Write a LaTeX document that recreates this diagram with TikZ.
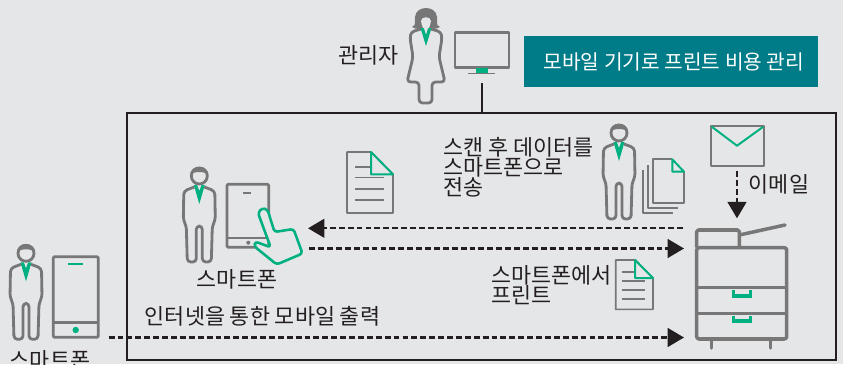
\documentclass[tikz,border=0pt]{standalone}
\usepackage{fontspec}
\setmainfont{Noto Sans CJK KR}
\usepackage{xcolor}
\usetikzlibrary{arrows.meta}
\definecolor{paper}{HTML}{E5E6E8}
\definecolor{icon}{HTML}{777777}
\definecolor{mint}{HTML}{00B081}
\definecolor{teal}{HTML}{007C89}
\definecolor{ink}{HTML}{231F20}
\tikzset{
    label/.style = {inner sep=0pt, text=ink, font=\fontsize{18.6}{17}\selectfont, align=left},
    outline/.style = {draw=icon, line width=2.4pt, line join=round},
    thin/.style = {draw=icon, line width=1.4pt, line join=round},
    accent/.style = {draw=mint, line width=1.7pt, line join=round},
    flow/.style = {draw=ink, line width=2pt, dash pattern=on 5pt off 2.6pt, -{Triangle[length=14pt,width=16pt]}},
    man/.pic = {
        \draw[outline] (0,0) circle (8);
        \fill[icon] (-9,-1) .. controls (-9,-12) and (9,-12) .. (9,-1) .. controls (6,-5) and (-6,-5) .. (-9,-1) -- cycle;
        \draw[outline, rounded corners=3pt] (-5,11) -- (-15.5,15) -- (-16,44) -- (-13,50) -- (-12,86) -- (-3,86) -- (-3,50) -- (3,50) -- (3,86) -- (12,86) -- (13,50) -- (16,44) -- (15.5,15) -- (5,11);
        \fill[mint] (-5.5,9) -- (-2.2,9) -- (0,15) -- (2.2,9) -- (5.5,9) -- (0,28) -- cycle;
    },
    woman/.pic = {
        \fill[icon] (-14,5) .. controls (-9,3) and (-12,-1) .. (-11,-5) .. controls (-10,-17) and (10,-17) .. (11,-5) .. controls (12,-1) and (9,3) .. (14,5) .. controls (9,8) and (5,7) .. (0,6) .. controls (-5,7) and (-9,8) .. (-14,5) -- cycle;
        \fill[paper] (-5,-1) .. controls (-5,-6) and (5,-6) .. (5,-1) .. controls (5,2) and (3,5) .. (2.5,7) -- (-2.5,7) .. controls (-3,5) and (-5,2) .. (-5,-1) -- cycle;
        \draw[outline, rounded corners=3pt] (-5,7) -- (-15,10) -- (-16,16) -- (-13,35) -- (-19,60) -- (-7,60) -- (-7,81) -- (6,81) -- (6,60) -- (19,60) -- (13,35) -- (16,16) -- (15,10) -- (5,7);
        \fill[mint] (-5.5,6) -- (-2.2,6) -- (0,13) -- (2.2,6) -- (5.5,6) -- (0,24) -- cycle;
    },
    sheet/.pic = {
        \draw[thin] (0,0) -- (24,0) -- (46,22.3) -- (46,61) -- (0,61) -- cycle;
        \foreach \y/\e in {15/24, 25.6/36.6, 37.3/36.6, 48/36.6}
            \draw[thin] (8,\y) -- (\e,\y);
        \draw[accent] (24,0) -- (24,22.3) -- (46,22.3) -- cycle;
    },
}
\begin{document}
\begin{tikzpicture}[x=0.03cm, y=-0.03cm]
    \clip (0,0) rectangle (843,364);
    \fill[paper] (0,0) rectangle (843,364);

    \node (frame) at (481.5,236.5) [draw=ink, line width=1.7pt, minimum width=21.27cm, minimum height=7.41cm, outer sep=0pt] {};
    \node (banner) at (671,61.5) [fill=teal, text=white, minimum width=8.82cm, minimum height=1.53cm, font=\fontsize{17.3}{17}\selectfont] {\hspace*{5pt}모바일 기기로 프린트 비용 관리};

    \pic at (426,22) {woman};
    \node (admin) at (368.5,55) [label] {관리자};
    \draw[outline] (455,32.7) rectangle (509,67.3);
    \fill[mint] (476,68) rectangle (488,73);
    \draw[thin] (468.3,73.5) -- (495,73.5);
    \coordinate (stand) at (481.7,83);
    \draw[draw=ink, line width=1.7pt] (stand) -- (stand |- frame.north);

    \pic at (199.3,176) {man};
    \draw[outline, rounded corners=1pt] (227,184.3) rectangle (268.7,247.3);
    \draw[outline] (227,238) -- (268.7,238);
    \draw[icon, line width=2pt] (243.3,193.3) -- (251.3,193.3);
    \fill[icon] (248.3,242.7) circle (2);
    \draw[accent, line width=2.2pt, fill=paper, rounded corners=2.5pt] (258,213) -- (270.7,247.3) -- (255,241.5) -- (254.5,246.5) -- (276.7,264.5) -- (302.5,253.5) -- (293.5,229) -- (274.5,232) -- (267.5,209.5) -- (262,208) -- cycle;
    \node (tablet) at (237,279) [label] {스마트폰};

    \pic at (347,152) {sheet};

    \node (scan) at (443,167) [label, anchor=west] {스캔 후 데이터를\\스마트폰으로\\전송};
    \pic at (619,133) {man};
    \draw[thin] (648.3,165) -- (648.3,208.3) -- (678.3,208.3);
    \draw[thin] (643.3,170) -- (643.3,213.3) -- (672.7,213.3);
    \draw[thin] (672.3,159.3) -- (653.3,159.3) -- (653.3,203.3) -- (684,203.3) -- (684,171.7);
    \draw[accent] (672.3,159.3) -- (672.3,171.7) -- (684,171.7) -- cycle;

    \draw[thin, line width=1.7pt] (710.7,125.7) rectangle (764,165.7);
    \draw[accent] (711.7,126.7) -- (737,145.7) -- (763.3,126.7);
    \node (mail) at (779,184) [label] {이메일};
    \coordinate (mailout) at (737,171);
    \coordinate (mailin) at (737,218.3);
    \draw[flow] (mailout) -- (mailin);

    \draw[outline, line width=3pt, rounded corners=1.5pt] (696.7,247.7) -- (696.7,230) -- (739.3,230) -- (739.3,247.7);
    \draw[outline, line width=3pt, rounded corners=2pt] (696.7,247.7) rectangle (786.7,339);
    \draw[outline, line width=3pt] (696.7,287.7) -- (786.7,287.7);
    \draw[outline, line width=3pt] (696.7,313.7) -- (786.7,313.7);
    \draw[outline, line width=3pt, line cap=round] (739.3,235) -- (785,225);
    \draw[outline, line width=3pt, line cap=round] (711.7,339) -- (711.7,348);
    \draw[outline, line width=3pt, line cap=round] (770.7,339) -- (770.7,348);
    \draw[mint, line width=2.6pt] (733.5,289.5) -- (733.5,296) -- (750.5,296) -- (750.5,289.5);
    \draw[mint, line width=2.6pt] (733.5,315.5) -- (733.5,321) -- (750.5,321) -- (750.5,315.5);

    \node (print) at (491,285.5) [label, anchor=west] {스마트폰에서\\프린트};
    \pic[scale=0.81] at (615.7,260) {sheet};

    \coordinate (scanout) at (683,228.3);
    \coordinate (scanin) at (308,228.3);
    \coordinate (printout) at (309.3,248.5);
    \coordinate (printin) at (684,248.5);
    \coordinate (webout) at (108.7,337.5);
    \coordinate (webin) at (684,337.5);
    \draw[flow] (scanout) -- (scanin);
    \draw[flow] (printout) -- (printin);
    \draw[flow] (webout) -- (webin);
    \node (web) at (262.5,316) [label] {인터넷을 통한 모바일 출력};

    \pic at (26,253.3) {man};
    \draw[outline, rounded corners=1pt] (53.3,256.7) rectangle (98.3,337.3);
    \draw[outline] (53.3,322.3) -- (98.3,322.3);
    \draw[mint, line width=1.8pt] (68.3,264) -- (83.3,264);
    \fill[mint] (75.7,330) circle (3.2);
    \node (phone) at (50,360) [label] {스마트폰};
\end{tikzpicture}
\end{document}
